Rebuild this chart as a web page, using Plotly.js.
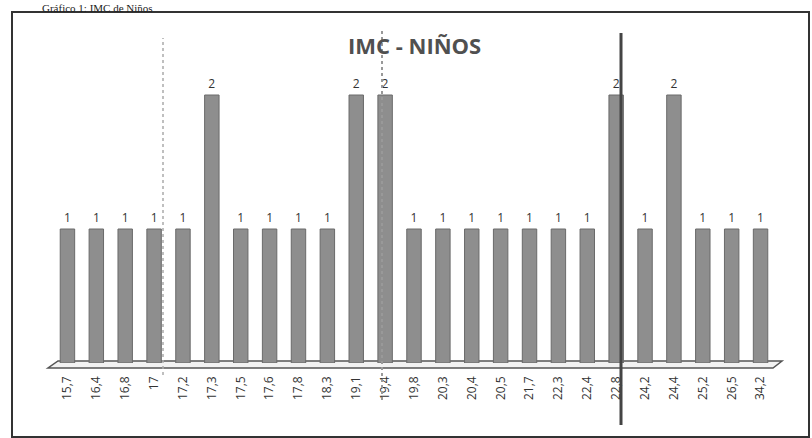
<!DOCTYPE html>
<html>
<head>
<meta charset="utf-8">
<script src="https://cdn.plot.ly/plotly-3.0.1.min.js"></script>
<style>html,body{margin:0;padding:0;background:#fff;}#chart{width:812px;height:438px;}</style>
</head>
<body>
<div id="chart"></div>
<script>
var categories = ["15,7","16,4","16,8","17","17,2","17,3","17,5","17,6","17,8","18,3","19,1","19,4","19,8","20,3","20,4","20,5","21,7","22,3","22,4","22,8","24,2","24,4","25,2","26,5","34,2"];
var counts = [1,1,1,1,1,2,1,1,1,1,2,2,1,1,1,1,1,1,1,2,1,2,1,1,1];
var chartTitle = "IMC - NIÑOS";
var pageCaption = "Gráfico 1: IMC de Niños";

var W = 812, H = 438, ML = 53, MR = 37, MT = 41, MB = 75;
var PW = W - ML - MR, PH = H - MT - MB;
function px(x){ return (x - ML) / PW; }
function py(y){ return (H - MB - y) / PH; }

var trace = {
  type: 'bar',
  x: categories,
  y: counts,
  text: counts.map(String),
  textposition: 'outside',
  cliponaxis: false,
  textfont: {family: 'Open Sans, sans-serif', size: 12, color: '#333333'},
  outsidetextfont: {family: 'Open Sans, sans-serif', size: 12, color: '#333333'},
  marker: {color: '#8e8e8e', line: {color: '#6a6a6a', width: 1}},
  width: 0.5,
  hoverinfo: 'none'
};

var floorPath = 'M ' + px(48) + ',' + py(368) + ' L ' + px(773) + ',' + py(368) +
  ' L ' + px(782) + ',' + py(361) + ' L ' + px(58) + ',' + py(361) + ' Z';

var layout = {
  width: W, height: H,
  margin: {l: ML, r: MR, t: MT, b: MB},
  paper_bgcolor: '#ffffff',
  plot_bgcolor: 'rgba(0,0,0,0)',
  showlegend: false,
  bargap: 0.5,
  xaxis: {
    type: 'category',
    tickangle: -90,
    showgrid: false, zeroline: false, showline: false,
    ticks: '', ticklen: 0,
    ticklabelstandoff: 10,
    tickfont: {family: 'Open Sans, sans-serif', size: 12, color: '#333'},
    automargin: false
  },
  yaxis: {range: [0, 2.403], visible: false, showgrid: false, zeroline: false},
  annotations: [
    {text: '<b>' + chartTitle + '</b>', xref: 'paper', yref: 'paper', x: px(414), y: py(45),
     xanchor: 'center', yanchor: 'middle', showarrow: false,
     font: {family: 'Open Sans, sans-serif', size: 22, color: '#505050'}},
    {text: pageCaption, xref: 'paper', yref: 'paper', x: px(40), y: py(0),
     xanchor: 'left', yanchor: 'top', showarrow: false,
     font: {family: 'Liberation Serif, serif', size: 11, color: '#222'}}
  ],
  shapes: [
    {type: 'rect', xref: 'paper', yref: 'paper', x0: px(12), x1: px(809), y0: py(437), y1: py(12),
     line: {color: '#333', width: 2}, fillcolor: 'rgba(0,0,0,0)', layer: 'below'},
    {type: 'path', xref: 'paper', yref: 'paper', path: floorPath,
     line: {color: '#555', width: 1.5}, fillcolor: '#f2f2f2', layer: 'below'},
    {type: 'line', xref: 'paper', yref: 'paper', x0: px(163), x1: px(163), y0: py(375), y1: py(38),
     line: {color: '#aaa', width: 1.5, dash: 'dot'}},
    {type: 'line', xref: 'paper', yref: 'paper', x0: px(382), x1: px(382), y0: py(400), y1: py(30),
     line: {color: '#999', width: 2, dash: 'dot'}},
    {type: 'line', xref: 'paper', yref: 'paper', x0: px(621), x1: px(621), y0: py(425), y1: py(33),
     line: {color: '#444', width: 3}}
  ]
};

Plotly.newPlot('chart', [trace], layout, {staticPlot: true, displayModeBar: false});
</script>
</body>
</html>
